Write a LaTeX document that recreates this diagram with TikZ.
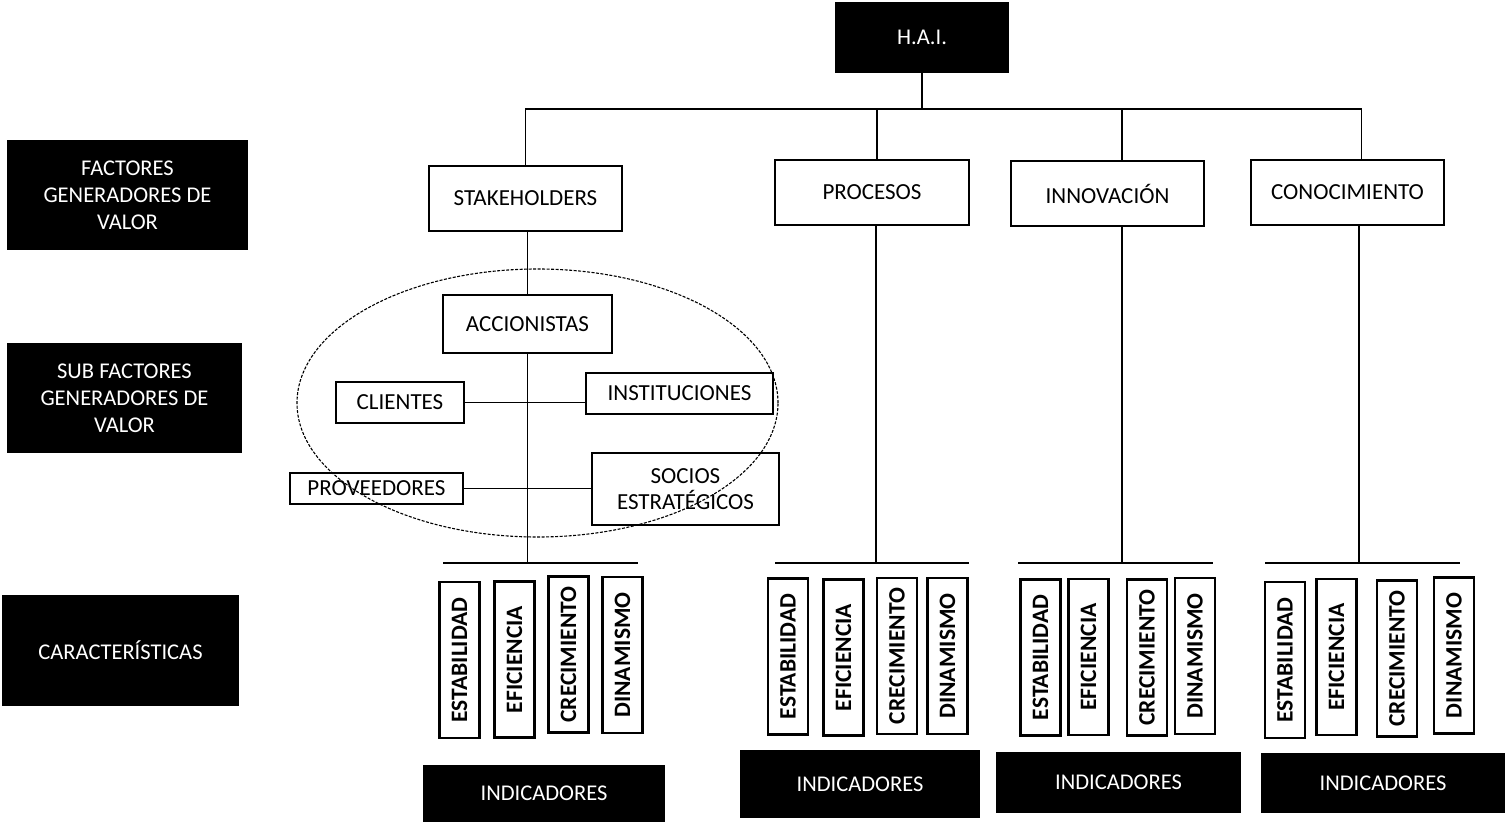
\documentclass[tikz,border=0pt]{standalone}
\usepackage{fontspec}
\setmainfont{Carlito}
\usetikzlibrary{calc}
\begin{document}
\begin{tikzpicture}[x=1pt,y=-1pt,
  blk/.style={fill=black, text=white, font=\fontsize{22.5}{27}\selectfont, align=center, inner sep=0pt},
  wbox/.style={draw, line width=2.7pt, fill=white, font=\fontsize{23}{26}\selectfont, align=center, inner sep=0pt},
  chr/.style={draw, line width=2.5pt, fill=white, rotate=90, font=\bfseries\fontsize{23.5}{26}\selectfont, minimum width=156pt, minimum height=40pt, inner sep=0pt},
  conn/.style={line width=1.3pt}]
\useasboundingbox (0,0) rectangle (1505,824);

% left labels
\node[blk, minimum width=241pt, minimum height=110pt] (lab1) at (127.5,195) {FACTORES\\GENERADORES DE\\VALOR};
\node[blk, minimum width=235pt, minimum height=110pt] (lab2) at (124.5,398) {SUB FACTORES\\GENERADORES DE\\VALOR};
\node[blk, minimum width=237pt, minimum height=111pt] (lab3) at (120.5,650.5) {CARACTERÍSTICAS};

% top
\node[blk, minimum width=174pt, minimum height=71pt] (hai) at (922,37.5) {H.A.I.};

% factors
\node[wbox, minimum width=193pt, minimum height=65pt] (stk) at (525.5,198.5) {STAKEHOLDERS};
\node[wbox, minimum width=194pt, minimum height=65pt] (pro) at (872,192.5) {PROCESOS};
\node[wbox, minimum width=193pt, minimum height=65pt] (inn) at (1107.5,193.5) {INNOVACIÓN};
\node[wbox, minimum width=193pt, minimum height=65pt] (con) at (1347.5,192.5) {CONOCIMIENTO};

% sub factors
\node[wbox, minimum width=169pt, minimum height=58pt] (acc) at (527.5,324) {ACCIONISTAS};
\node[wbox, minimum width=128pt, minimum height=41pt] (cli) at (400,402.5) {CLIENTES};
\node[wbox, minimum width=187pt, minimum height=41pt] (ins) at (679.5,393.5) {INSTITUCIONES};
\node[wbox, minimum width=173pt, minimum height=31pt] (prv) at (376.5,488.5) {PROVEEDORES};
\node[wbox, minimum width=187pt, minimum height=72pt] (soc) at (685.5,489) {SOCIOS\\ESTRATÉGICOS};

% bar coordinates
\coordinate (bus) at (0,109);
\coordinate (b1w) at (443,563); \coordinate (b1e) at (638,563);
\coordinate (b2w) at (775,563); \coordinate (b2e) at (969,563);
\coordinate (b3w) at (1018,563); \coordinate (b3e) at (1213,563);
\coordinate (b4w) at (1265,563); \coordinate (b4e) at (1460,563);

% tree connectors
\draw[conn] (hai.south) -- (hai.south |- bus);
\draw[conn] (stk.north) |- ([xshift=14pt]con.north |- bus) -- ([xshift=14pt]con.north);
\draw[conn] ([xshift=5pt]pro.north) -- ([xshift=5pt]pro.north |- bus);
\draw[conn] ([xshift=14.5pt]inn.north) -- ([xshift=14.5pt]inn.north |- bus);

\draw[conn] (acc.north |- stk.south) -- (acc.north);
\draw[conn] (acc.south) -- (acc.south |- b1w);
\draw[conn] (cli.east) -- (cli.east -| ins.west);
\draw[conn] (prv.east) -- (prv.east -| soc.west);
\draw[conn] ([xshift=4pt]pro.south) -- ([xshift=4pt]pro.south |- b2w);
\draw[conn] ([xshift=14.5pt]inn.south) -- ([xshift=14.5pt]inn.south |- b3w);
\draw[conn] ([xshift=11.5pt]con.south) -- ([xshift=11.5pt]con.south |- b4w);

\draw[conn] (b1w) -- (b1e);
\draw[conn] (b2w) -- (b2e);
\draw[conn] (b3w) -- (b3e);
\draw[conn] (b4w) -- (b4e);

% characteristics
\node[chr] (e1) at (459.5,660) {ESTABILIDAD};
\node[chr] (f1) at (514.5,659.5) {EFICIENCIA};
\node[chr] (c1) at (568.5,654.5) {CRECIMIENTO};
\node[chr] (d1) at (622.5,655) {DINAMISMO};
\node[chr] (e2) at (788,656.5) {ESTABILIDAD};
\node[chr] (f2) at (843.5,657.5) {EFICIENCIA};
\node[chr] (c2) at (897,656) {CRECIMIENTO};
\node[chr] (d2) at (947.5,656) {DINAMISMO};
\node[chr] (e3) at (1040.5,657.5) {ESTABILIDAD};
\node[chr] (f3) at (1088.5,657) {EFICIENCIA};
\node[chr] (c3) at (1147,657.5) {CRECIMIENTO};
\node[chr] (d3) at (1195,656) {DINAMISMO};
\node[chr] (e4) at (1285,660) {ESTABILIDAD};
\node[chr] (f4) at (1336.5,657) {EFICIENCIA};
\node[chr] (c4) at (1397,658.5) {CRECIMIENTO};
\node[chr] (d4) at (1454,655.5) {DINAMISMO};

% indicadores
\node[blk, minimum width=242pt, minimum height=57pt] (i1) at (544,793.5) {INDICADORES};
\node[blk, minimum width=240pt, minimum height=68pt] (i2) at (860,784) {INDICADORES};
\node[blk, minimum width=245pt, minimum height=61pt] (i3) at (1118.5,782.5) {INDICADORES};
\node[blk, minimum width=244pt, minimum height=60pt] (i4) at (1383,783) {INDICADORES};

% stakeholder group ellipse
\draw[line width=1.1pt, dash pattern=on 3pt off 1.5pt] (537.5,403) ellipse [x radius=240.5pt, y radius=134pt];
\end{tikzpicture}
\end{document}
